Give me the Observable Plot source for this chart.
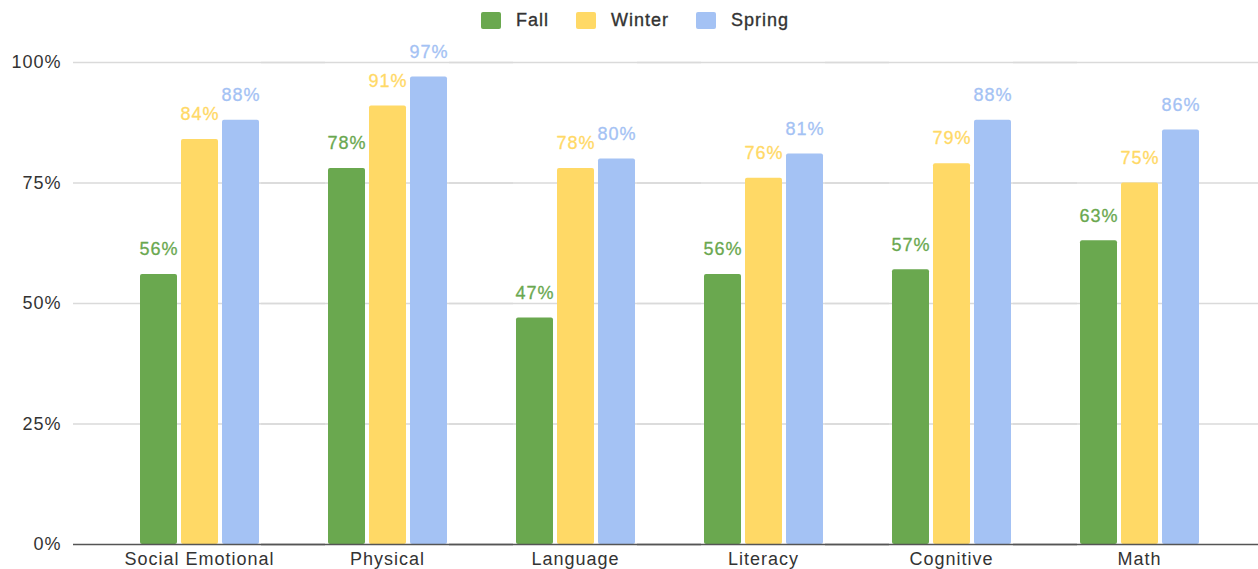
<!DOCTYPE html>
<html>
<head>
<meta charset="utf-8">
<script src="https://cdn.jsdelivr.net/npm/d3@7"></script>
<script src="https://cdn.jsdelivr.net/npm/@observablehq/plot@0.6"></script>
<style>
  html, body { margin: 0; padding: 0; background: #fff; }
  body { width: 1258px; height: 569px; overflow: hidden; font-family: "Liberation Sans", Arial, sans-serif; }
  #legend { height: 40px; display: flex; align-items: center; padding-left: 481px; box-sizing: border-box; font-size: 18px; letter-spacing: 1px; color: #333; -webkit-text-stroke: 0.35px #333; }
  #legend .item { display: flex; align-items: center; margin-right: 27px; }
  #legend .sw { width: 20px; height: 17px; border-radius: 2px; margin-right: 15px; }
  #chart svg { display: block; }
</style>
</head>
<body>
<div id="legend"></div>
<div id="chart"></div>
<script>
const categories = ["Social Emotional", "Physical", "Language", "Literacy", "Cognitive", "Math"];
const seasons = ["Fall", "Winter", "Spring"];
const fall = [56, 78, 47, 56, 57, 63];
const winter = [84, 91, 78, 76, 79, 75];
const spring = [88, 97, 80, 81, 88, 86];
const seasonColors = ["#6aa84f", "#ffd966", "#a4c2f4"];
const yTicks = [0, 25, 50, 75, 100];

const seriesValues = [fall, winter, spring];
const data = categories.flatMap((c, i) =>
  seasons.map((s, j) => ({ category: c, season: s, value: seriesValues[j][i] }))
);

// Legend
const legend = document.getElementById("legend");
seasons.forEach((s, j) => {
  const item = document.createElement("div");
  item.className = "item";
  const sw = document.createElement("div");
  sw.className = "sw";
  sw.style.background = seasonColors[j];
  const label = document.createElement("span");
  label.textContent = s;
  item.appendChild(sw);
  item.appendChild(label);
  legend.appendChild(item);
});

const font = "'Liberation Sans', Arial, sans-serif";

const chart = Plot.plot({
  width: 1258,
  height: 529,
  marginTop: 22,
  marginBottom: 25,
  marginLeft: 75,
  marginRight: 0,
  style: { fontFamily: font, fontSize: "18px", letterSpacing: "1px", color: "#333", background: "#fff" },
  fx: { domain: categories, paddingInner: 0.3, paddingOuter: 0.2955, align: 0.525, label: null },
  x: { domain: seasons, paddingInner: 0.1, paddingOuter: 0.132, axis: null },
  y: { domain: [0, 100], axis: null },
  color: { domain: seasons, range: seasonColors },
  marks: [
    Plot.ruleY(yTicks.slice(1), { stroke: "#dadada", strokeWidth: 1.5, insetLeft: -60, insetRight: -60 }),
    Plot.axisY(yTicks, {
      tickSize: 0,
      tickPadding: 72,
      tickFormat: d => d + "%",
      label: null,
      fill: "#333",
      stroke: "#333",
      strokeWidth: 0.35,
      paintOrder: "normal",
      fontSize: 18
    }),
    Plot.barY(data, { fx: "category", x: "season", y: "value", fill: "season", rx: 2 }),
    Plot.ruleY([0], { stroke: "#555", strokeWidth: 1.5, insetLeft: -60, insetRight: -60 }),
    Plot.text(data, {
      fx: "category",
      x: "season",
      y: "value",
      text: d => d.value + "%",
      fill: "season",
      stroke: "season",
      strokeWidth: 0.3,
      paintOrder: "normal",
      dy: -25,
      lineAnchor: "middle",
      fontSize: 18
    }),
    Plot.axisFx({ anchor: "bottom", tickSize: 0, tickPadding: 8, label: null, fontSize: 18, fill: "#333", stroke: "#333", strokeWidth: 0.35, paintOrder: "normal" })
  ]
});
document.getElementById("chart").appendChild(chart);
</script>
</body>
</html>
